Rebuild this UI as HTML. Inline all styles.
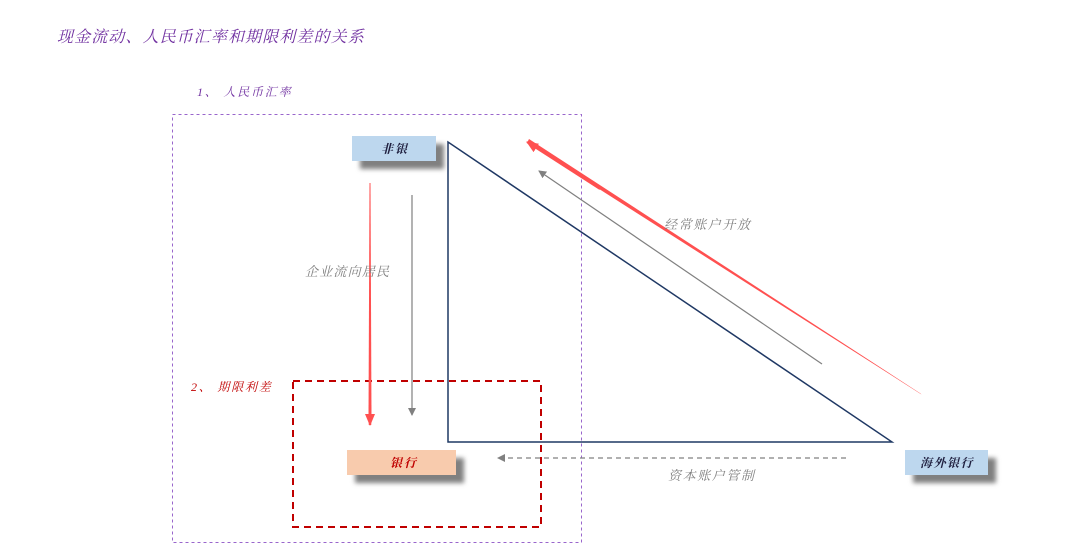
<!DOCTYPE html>
<html><head><meta charset="utf-8"><style>
html,body{margin:0;padding:0;background:#fff;}
svg{display:block;}
text{font-family:"Liberation Serif","Noto Serif CJK SC","Noto Sans CJK SC",serif;font-style:italic;}
</style></head><body>
<svg width="1080" height="560" viewBox="0 0 1080 560" xmlns="http://www.w3.org/2000/svg">
<defs>
<filter id="sh" x="-20%" y="-20%" width="150%" height="180%"><feGaussianBlur stdDeviation="2.5"/></filter>
<marker id="ag" markerWidth="8" markerHeight="8" refX="7" refY="4" orient="auto" markerUnits="userSpaceOnUse"><path d="M0,0 L8,4 L0,8 z" fill="#808080"/></marker>
<marker id="ar" markerWidth="12" markerHeight="10" refX="11" refY="5" orient="auto" markerUnits="userSpaceOnUse"><path d="M0,0 L12,5 L0,10 z" fill="#ff5050"/></marker>
</defs>
<text x="57" y="42" font-size="16" letter-spacing="1.1" fill="#7030a0">现金流动、人民币汇率和期限利差的关系</text>
<text x="197" y="96" font-size="12" letter-spacing="1.8" fill="#7030a0">1、  人民币汇率</text>
<rect x="172.5" y="114.5" width="409" height="428" fill="none" stroke="#9966cc" stroke-width="1" stroke-dasharray="3,3"/>
<rect x="293" y="381" width="248" height="146" fill="none" stroke="#c00000" stroke-width="2" stroke-dasharray="7,5"/>
<text x="191" y="391" font-size="12" letter-spacing="1.8" fill="#c00000">2、  期限利差</text>
<polygon points="448,142 448,442 892,442" fill="none" stroke="#1f3864" stroke-width="1.5"/>
<polygon points="921.5,394.5 920.5,393.5 529,139 527,143" fill="#ff5050"/>
<line x1="600" y1="189" x2="527" y2="142" stroke="#ff5050" stroke-width="2" marker-end="url(#ar)"/>
<line x1="822" y1="364" x2="539" y2="171" stroke="#808080" stroke-width="1.2" marker-end="url(#ag)"/>
<polygon points="369.5,183 370.5,183 371.5,418 368.5,418" fill="#ff5050"/>
<line x1="370" y1="405" x2="370" y2="425" stroke="#ff5050" stroke-width="2.5" marker-end="url(#ar)"/>
<line x1="412" y1="195" x2="412" y2="415" stroke="#808080" stroke-width="1.2" marker-end="url(#ag)"/>
<line x1="846" y1="458" x2="498" y2="458" stroke="#808080" stroke-width="1.2" stroke-dasharray="5,4" marker-end="url(#ag)"/>
<text x="664" y="229" font-size="13" letter-spacing="1.6" fill="#808080">经常账户开放</text>
<text x="668" y="480" font-size="13" letter-spacing="1.6" fill="#808080">资本账户管制</text>
<text x="305" y="276" font-size="13" letter-spacing="1.2" fill="#808080">企业流向居民</text>
<rect x="360" y="144" width="84" height="25" fill="#808080" filter="url(#sh)"/>
<rect x="352" y="136" width="84" height="25" fill="#bdd7ee"/>
<text x="395" y="153" font-size="12" font-weight="bold" letter-spacing="2" fill="#1f1f3f" text-anchor="middle">非银</text>
<rect x="355" y="458" width="109" height="25" fill="#808080" filter="url(#sh)"/>
<rect x="347" y="450" width="109" height="25" fill="#f8cbad"/>
<text x="404" y="467" font-size="12" font-weight="bold" letter-spacing="2" fill="#c00000" text-anchor="middle">银行</text>
<rect x="913" y="458" width="83" height="25" fill="#808080" filter="url(#sh)"/>
<rect x="905" y="450" width="83" height="25" fill="#bdd7ee"/>
<text x="947" y="467" font-size="12" font-weight="bold" letter-spacing="1.5" fill="#1f1f3f" text-anchor="middle">海外银行</text>
</svg>
</body></html>
